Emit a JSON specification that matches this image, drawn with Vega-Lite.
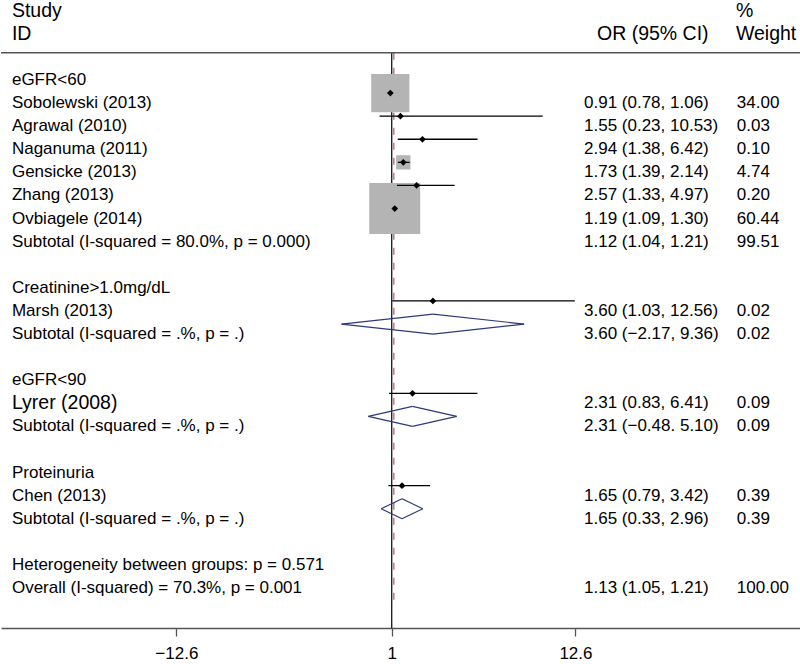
{
  "$schema": "https://vega.github.io/schema/vega-lite/v6.json",
  "width": 800,
  "height": 628,
  "padding": 0,
  "autosize": {"type": "pad"},
  "background": "white",
  "config": {"view": {"stroke": null}, "font": "Liberation Sans"},
  "datasets": {
    "rows": [
      {"row": 0, "kind": "group", "label": "eGFR<60"},
      {"row": 1, "kind": "study", "label": "Sobolewski (2013)", "est": 0.91, "lo": 0.78, "hi": 1.06, "weight": 34.00, "ci": "0.91 (0.78, 1.06)", "wt": "34.00"},
      {"row": 2, "kind": "study", "label": "Agrawal (2010)", "est": 1.55, "lo": 0.23, "hi": 10.53, "weight": 0.03, "ci": "1.55 (0.23, 10.53)", "wt": "0.03"},
      {"row": 3, "kind": "study", "label": "Naganuma (2011)", "est": 2.94, "lo": 1.38, "hi": 6.42, "weight": 0.10, "ci": "2.94 (1.38, 6.42)", "wt": "0.10"},
      {"row": 4, "kind": "study", "label": "Gensicke (2013)", "est": 1.73, "lo": 1.39, "hi": 2.14, "weight": 4.74, "ci": "1.73 (1.39, 2.14)", "wt": "4.74"},
      {"row": 5, "kind": "study", "label": "Zhang (2013)", "est": 2.57, "lo": 1.33, "hi": 4.97, "weight": 0.20, "ci": "2.57 (1.33, 4.97)", "wt": "0.20"},
      {"row": 6, "kind": "study", "label": "Ovbiagele (2014)", "est": 1.19, "lo": 1.09, "hi": 1.30, "weight": 60.44, "ci": "1.19 (1.09, 1.30)", "wt": "60.44"},
      {"row": 7, "kind": "subtotal", "label": "Subtotal (I-squared = 80.0%, p = 0.000)", "est": 1.12, "lo": 1.04, "hi": 1.21, "weight": 99.51, "ci": "1.12 (1.04, 1.21)", "wt": "99.51"},
      {"row": 9, "kind": "group", "label": "Creatinine>1.0mg/dL"},
      {"row": 10, "kind": "study", "label": "Marsh (2013)", "est": 3.60, "lo": 1.03, "hi": 12.56, "weight": 0.02, "ci": "3.60 (1.03, 12.56)", "wt": "0.02"},
      {"row": 11, "kind": "subtotal", "label": "Subtotal (I-squared = .%, p = .)", "est": 3.60, "lo": -2.17, "hi": 9.36, "weight": 0.02, "ci": "3.60 (−2.17, 9.36)", "wt": "0.02"},
      {"row": 13, "kind": "group", "label": "eGFR<90"},
      {"row": 14, "kind": "study", "label": "Lyrer (2008)", "est": 2.31, "lo": 0.83, "hi": 6.41, "weight": 0.09, "ci": "2.31 (0.83, 6.41)", "wt": "0.09"},
      {"row": 15, "kind": "subtotal", "label": "Subtotal (I-squared = .%, p = .)", "est": 2.31, "lo": -0.48, "hi": 5.10, "weight": 0.09, "ci": "2.31 (−0.48. 5.10)", "wt": "0.09"},
      {"row": 17, "kind": "group", "label": "Proteinuria"},
      {"row": 18, "kind": "study", "label": "Chen (2013)", "est": 1.65, "lo": 0.79, "hi": 3.42, "weight": 0.39, "ci": "1.65 (0.79, 3.42)", "wt": "0.39"},
      {"row": 19, "kind": "subtotal", "label": "Subtotal (I-squared = .%, p = .)", "est": 1.65, "lo": 0.33, "hi": 2.96, "weight": 0.39, "ci": "1.65 (0.33, 2.96)", "wt": "0.39"},
      {"row": 21, "kind": "note", "label": "Heterogeneity between groups: p = 0.571"},
      {"row": 22, "kind": "overall", "label": "Overall (I-squared) = 70.3%, p = 0.001", "est": 1.13, "lo": 1.05, "hi": 1.21, "weight": 100.00, "ci": "1.13 (1.05, 1.21)", "wt": "100.00"}
    ],
    "headers": [
      {"col": "label", "row": -3, "text": "Study"},
      {"col": "label", "row": -2, "text": "ID"},
      {"col": "or", "row": -2, "text": "OR (95% CI)"},
      {"col": "weight", "row": -3, "text": "%"},
      {"col": "weight", "row": -2, "text": "Weight"}
    ]
  },
  "layer": [
    {
      "data": {"values": [{}]},
      "mark": {"type": "rule", "color": "black", "strokeWidth": 1.2},
      "encoding": {
        "x": {"datum": 1, "type": "quantitative", "scale": {"domain": [-23.67, 26.84], "nice": false, "zero": false},
              "axis": {"values": [-12.6, 1, 12.6], "title": null, "grid": false, "labelExpr": "datum.value == 1 ? '1' : format(datum.value, '.1f')", "domainColor": "#555555", "domainWidth": 1.5, "tickColor": "#555555", "tickWidth": 1.3, "tickSize": 8, "labelFontSize": 17, "labelColor": "black", "labelFont": "Liberation Sans", "labelPadding": 9}},
        "y": {"datum": -0.745, "type": "quantitative", "scale": {"domain": [-3.03, 24.16], "reverse": true, "nice": false, "zero": false}, "axis": null},
        "y2": {"datum": 24.16}
      }
    },
    {
      "data": {"values": [{}]},
      "mark": {"type": "rule", "color": "#c07a8c", "strokeWidth": 1.5, "strokeDash": [7, 8]},
      "encoding": {
        "x": {"datum": 1.13, "type": "quantitative", "title": null},
        "y": {"datum": -0.745, "type": "quantitative", "axis": null},
        "y2": {"datum": 23.16}
      }
    },
    {
      "data": {"values": [{}]},
      "mark": {"type": "rule", "color": "#555555", "strokeWidth": 1.5},
      "encoding": {
        "y": {"datum": -0.745, "type": "quantitative", "axis": null}
      }
    },
    {
      "data": {"name": "rows"},
      "transform": [{"filter": "datum.kind == 'study'"}],
      "mark": {"type": "point", "shape": "square", "filled": true, "color": "#b4b4b4", "opacity": 1, "strokeWidth": 0},
      "encoding": {
        "x": {"field": "est", "type": "quantitative", "title": null},
        "y": {"field": "row", "type": "quantitative", "axis": null},
        "size": {"field": "weight", "type": "quantitative", "scale": {"domain": [0, 100], "range": [0, 4300]}, "legend": null}
      }
    },
    {
      "data": {"name": "rows"},
      "transform": [{"filter": "datum.kind == 'study'"}],
      "mark": {"type": "rule", "color": "black", "strokeWidth": 1.3},
      "encoding": {
        "x": {"field": "lo", "type": "quantitative", "title": null},
        "x2": {"field": "hi"},
        "y": {"field": "row", "type": "quantitative", "axis": null}
      }
    },
    {
      "data": {"name": "rows"},
      "transform": [{"filter": "datum.kind == 'study'"}],
      "mark": {"type": "point", "shape": "diamond", "filled": true, "color": "black", "opacity": 1, "size": 45},
      "encoding": {
        "x": {"field": "est", "type": "quantitative", "title": null},
        "y": {"field": "row", "type": "quantitative", "axis": null}
      }
    },
    {
      "data": {"name": "rows"},
      "transform": [{"filter": "datum.kind == 'subtotal' && datum.row != 7"}],
      "mark": {"type": "rule", "color": "#2b3a78", "strokeWidth": 1.2, "y2Offset": -10},
      "encoding": {
        "x": {"field": "lo", "type": "quantitative", "title": null},
        "x2": {"field": "est"},
        "y": {"field": "row", "type": "quantitative", "axis": null},
        "y2": {"field": "row"}
      }
    },
    {
      "data": {"name": "rows"},
      "transform": [{"filter": "datum.kind == 'subtotal' && datum.row != 7"}],
      "mark": {"type": "rule", "color": "#2b3a78", "strokeWidth": 1.2, "yOffset": -10},
      "encoding": {
        "x": {"field": "est", "type": "quantitative", "title": null},
        "x2": {"field": "hi"},
        "y": {"field": "row", "type": "quantitative", "axis": null},
        "y2": {"field": "row"}
      }
    },
    {
      "data": {"name": "rows"},
      "transform": [{"filter": "datum.kind == 'subtotal' && datum.row != 7"}],
      "mark": {"type": "rule", "color": "#2b3a78", "strokeWidth": 1.2, "y2Offset": 10},
      "encoding": {
        "x": {"field": "lo", "type": "quantitative", "title": null},
        "x2": {"field": "est"},
        "y": {"field": "row", "type": "quantitative", "axis": null},
        "y2": {"field": "row"}
      }
    },
    {
      "data": {"name": "rows"},
      "transform": [{"filter": "datum.kind == 'subtotal' && datum.row != 7"}],
      "mark": {"type": "rule", "color": "#2b3a78", "strokeWidth": 1.2, "yOffset": 10},
      "encoding": {
        "x": {"field": "est", "type": "quantitative", "title": null},
        "x2": {"field": "hi"},
        "y": {"field": "row", "type": "quantitative", "axis": null},
        "y2": {"field": "row"}
      }
    },
    {
      "data": {"name": "rows"},
      "transform": [{"filter": "datum.label != 'Lyrer (2008)'"}],
      "mark": {"type": "text", "align": "left", "baseline": "middle", "dy": 10, "fontSize": 17, "color": "black", "font": "Liberation Sans"},
      "encoding": {
        "x": {"datum": -22.98, "type": "quantitative"},
        "y": {"field": "row", "type": "quantitative", "axis": null},
        "text": {"field": "label"}
      }
    },
    {
      "data": {"name": "rows"},
      "transform": [{"filter": "datum.label == 'Lyrer (2008)'"}],
      "mark": {"type": "text", "align": "left", "baseline": "middle", "dy": 10, "fontSize": 19.5, "color": "black", "font": "Liberation Sans"},
      "encoding": {
        "x": {"datum": -22.98, "type": "quantitative"},
        "y": {"field": "row", "type": "quantitative", "axis": null},
        "text": {"field": "label"}
      }
    },
    {
      "data": {"name": "rows"},
      "transform": [{"filter": "isValid(datum.ci)"}],
      "mark": {"type": "text", "align": "left", "baseline": "middle", "dy": 10, "fontSize": 17, "color": "black", "font": "Liberation Sans"},
      "encoding": {
        "x": {"datum": 13.14, "type": "quantitative"},
        "y": {"field": "row", "type": "quantitative", "axis": null},
        "text": {"field": "ci"}
      }
    },
    {
      "data": {"name": "rows"},
      "transform": [{"filter": "isValid(datum.wt)"}],
      "mark": {"type": "text", "align": "left", "baseline": "middle", "dy": 10, "fontSize": 17, "color": "black", "font": "Liberation Sans"},
      "encoding": {
        "x": {"datum": 22.79, "type": "quantitative"},
        "y": {"field": "row", "type": "quantitative", "axis": null},
        "text": {"field": "wt"}
      }
    },
    {
      "data": {"name": "headers"},
      "transform": [{"filter": "datum.col == 'label'"}],
      "mark": {"type": "text", "align": "left", "baseline": "middle", "dy": 10, "fontSize": 19.5, "color": "black", "font": "Liberation Sans"},
      "encoding": {
        "x": {"datum": -22.98, "type": "quantitative"},
        "y": {"field": "row", "type": "quantitative", "axis": null},
        "text": {"field": "text"}
      }
    },
    {
      "data": {"name": "headers"},
      "transform": [{"filter": "datum.col == 'or'"}],
      "mark": {"type": "text", "align": "left", "baseline": "middle", "dy": 10, "fontSize": 19.5, "color": "black", "font": "Liberation Sans"},
      "encoding": {
        "x": {"datum": 13.96, "type": "quantitative"},
        "y": {"field": "row", "type": "quantitative", "axis": null},
        "text": {"field": "text"}
      }
    },
    {
      "data": {"name": "headers"},
      "transform": [{"filter": "datum.col == 'weight'"}],
      "mark": {"type": "text", "align": "left", "baseline": "middle", "dy": 10, "fontSize": 19.5, "color": "black", "font": "Liberation Sans"},
      "encoding": {
        "x": {"datum": 22.73, "type": "quantitative"},
        "y": {"field": "row", "type": "quantitative", "axis": null},
        "text": {"field": "text"}
      }
    }
  ]
}
